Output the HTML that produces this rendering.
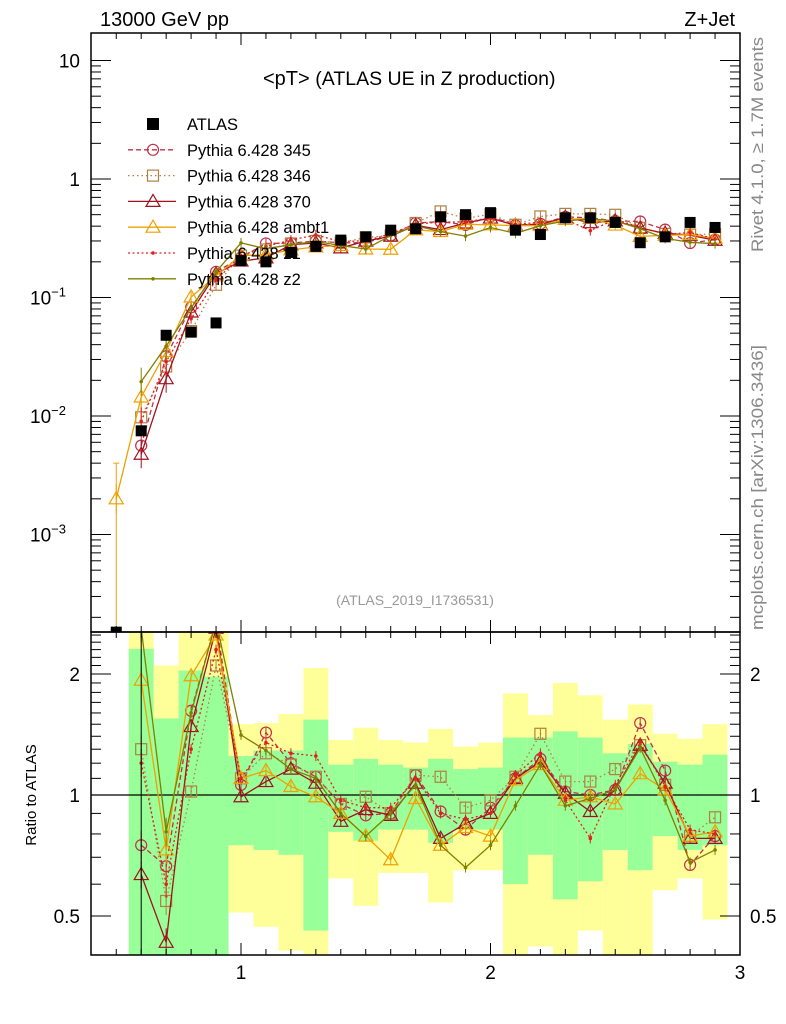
<!DOCTYPE html>
<html><head><meta charset="utf-8"><style>
body{margin:0;background:#fff;}
svg{display:block;font-family:"Liberation Sans",sans-serif;}
</style></head><body>
<svg id="c" width="786" height="1024" viewBox="0 0 786 1024"></svg>
<script>
const bins=[0.6,0.7,0.8,0.9,1.0,1.1,1.2,1.3,1.4,1.5,1.6,1.7,1.8,1.9,2.0,2.1,2.2,2.3,2.4,2.5,2.6,2.7,2.8,2.9];
const atlas=[0.0075,0.048,0.051,0.061,0.205,0.20,0.24,0.27,0.305,0.325,0.37,0.38,0.48,0.50,0.52,0.37,0.34,0.47,0.47,0.43,0.29,0.325,0.43,0.39];
const atlasLowX=0.5, atlasLowVal=0.00015;
const band1Hi=[2.31,1.55,2.04,1.97,1.25,1.29,1.29,1.54,1.19,1.23,1.19,1.17,1.23,1.16,1.17,1.39,1.39,1.44,1.39,1.27,1.34,1.21,1.19,1.26];
const band1Lo=[0.3,0.3,0.3,0.3,0.75,0.73,0.71,0.46,0.81,0.77,0.82,0.82,0.76,0.82,0.82,0.60,0.71,0.55,0.61,0.73,0.65,0.79,0.73,0.75];
const band2Hi=[3,2.1,3,3,1.50,1.51,1.59,2.07,1.37,1.47,1.37,1.35,1.46,1.32,1.35,1.79,1.58,1.90,1.77,1.54,1.68,1.42,1.38,1.50];
const band2Lo=[0.3,0.3,0.3,0.3,0.51,0.47,0.41,0.3,0.62,0.53,0.64,0.64,0.54,0.65,0.65,0.3,0.42,0.3,0.46,0.3,0.3,0.58,0.62,0.49];
const r345=[0.75,0.665,1.62,2.7,1.06,1.43,1.20,1.11,0.95,0.89,0.90,1.12,0.91,0.82,0.93,1.10,1.23,1.02,1.00,1.03,1.51,1.15,0.67,0.79];
const r346=[1.30,0.545,1.02,2.10,1.10,1.27,1.19,1.11,0.95,0.99,0.90,1.12,1.11,0.93,0.97,1.11,1.42,1.08,1.08,1.16,1.33,1.06,0.79,0.88];
const r370=[0.634,0.43,1.48,2.6,0.99,1.08,1.16,1.07,0.86,0.92,0.89,1.07,0.78,0.85,0.90,1.10,1.21,1.01,0.91,1.03,1.33,1.07,0.78,0.78];
const rambt1=[1.93,0.73,1.98,2.5,1.10,1.15,1.05,0.99,0.90,0.79,0.69,0.98,0.75,0.83,0.79,1.09,1.19,0.97,0.99,0.95,1.13,1.03,0.79,0.81];
const rz1=[1.2,0.6,1.3,2.3,1.1,1.35,1.27,1.25,0.97,0.93,0.93,1.1,0.9,0.87,0.90,1.12,1.27,0.97,0.78,1.06,1.35,1.05,0.82,0.80];
const rz2=[2.6,0.81,1.6,2.7,1.41,1.29,1.16,1.10,0.90,0.79,0.90,1.06,0.75,0.66,0.75,0.94,1.19,0.94,0.98,1.03,1.31,0.97,0.68,0.73];
const ambt1LowX=0.5, ambt1LowVal=0.002;
const legendLabels=["ATLAS","Pythia 6.428 345","Pythia 6.428 346","Pythia 6.428 370","Pythia 6.428 ambt1","Pythia 6.428 z1","Pythia 6.428 z2"];

const S=document.getElementById('c'),NS='http://www.w3.org/2000/svg';
function el(t,a,p){const e=document.createElementNS(NS,t);for(const k in a)e.setAttribute(k,a[k]);(p||S).appendChild(e);return e;}
const X0=91,X1=740,T0=33,T1=632,R0=632,R1=955;
const xs=v=>241+(v-1)*249.5;
const ys=v=>179-118.5*Math.log10(v);
const yr=v=>795-121*Math.log2(v);

const defs=el('defs',{});
const c1=el('clipPath',{id:'ct'},defs);el('rect',{x:X0,y:T0,width:X1-X0,height:T1-T0},c1);
const c2=el('clipPath',{id:'cr'},defs);el('rect',{x:X0,y:R0,width:X1-X0,height:R1-R0},c2);

const gB=el('g',{'clip-path':'url(#cr)'});

bins.forEach((b,i)=>{
  const x=xs(b-0.05),w=xs(b+0.05)-x;
  const y2=el('rect',{x:x,y:yr(band2Hi[i]),width:w,height:yr(band2Lo[i])-yr(band2Hi[i]),fill:'#ffff99'},gB);
  
  const y1=el('rect',{x:x,y:yr(band1Hi[i]),width:w,height:yr(band1Lo[i])-yr(band1Hi[i]),fill:'#99ff99'},gB);
  
});
el('line',{x1:X0,x2:X1,y1:yr(1),y2:yr(1),stroke:'#000','stroke-width':1.2});

const models=[
 {n:'pythia-345',r:r345,c:'#c0304b',d:'5,3',m:'circle'},
 {n:'pythia-346',r:r346,c:'#b08040',d:'1.5,3',m:'square'},
 {n:'pythia-370',r:r370,c:'#a01020',d:'',m:'tri'},
 {n:'pythia-ambt1',r:rambt1,c:'#f0a000',d:'',m:'tri'},
 {n:'pythia-z1',r:rz1,c:'#e02020',d:'2,2.5',m:'dot'},
 {n:'pythia-z2',r:rz2,c:'#808000',d:'',m:'dot'}];
function marker(g,m,x,y,c,name){
  let e;
  if(m=='circle')e=el('circle',{cx:x,cy:y,r:5.5,fill:'none',stroke:c,'stroke-width':1.2},g);
  else if(m=='square')e=el('rect',{x:x-5.5,y:y-5.5,width:11,height:11,fill:'none',stroke:c,'stroke-width':1.2},g);
  else if(m=='tri')e=el('polygon',{points:`${x},${y-7} ${x-7},${y+5} ${x+7},${y+5}`,fill:'none',stroke:c,'stroke-width':1.2},g);
  else e=el('circle',{cx:x,cy:y,r:1.8,fill:c},g);
  
}
function drawModel(md,top){
  const g=el('g',{'clip-path':top?'url(#ct)':'url(#cr)'});
  
  let xsArr=bins.slice(),vals=md.r.map((r,i)=>top?r*atlas[i]:r);
  if(top&&md.n=='pythia-ambt1'){xsArr.unshift(ambt1LowX);vals.unshift(ambt1LowVal);}
  const yf=top?ys:yr;
  const pts=xsArr.map((b,i)=>xs(b)+','+yf(vals[i]).toFixed(1)).join(' ');
  el('polyline',{points:pts,fill:'none',stroke:md.c,'stroke-width':1.3,'stroke-dasharray':md.d},g);
  xsArr.forEach((b,i)=>{
    const x=xs(b),y=yf(vals[i]),e=(b<0.75?14:5);
    el('line',{x1:x,x2:x,y1:y-e,y2:y+e,stroke:md.c,'stroke-width':1},g);
    marker(g,md.m,x,y,md.c,top?'model-point':'ratio-point');
  });
  if(top&&md.n=='pythia-ambt1'){
    const x=xs(ambt1LowX);
    el('line',{x1:x,x2:x,y1:ys(0.004),y2:T1,stroke:md.c,'stroke-width':1},g);
    el('line',{x1:x-3,x2:x+3,y1:ys(0.004),y2:ys(0.004),stroke:md.c,'stroke-width':1},g);
  }
}
models.forEach(m=>drawModel(m,false));
models.forEach(m=>drawModel(m,true));
const gD=el('g',{'clip-path':'url(#ct)'});

[atlasLowX].concat(bins).forEach((b,i)=>{
  const v=i==0?atlasLowVal:atlas[i-1];
  const r=el('rect',{x:xs(b)-5.5,y:ys(v)-5.5,width:11,height:11,fill:'#000'},gD);
  
});
el('line',{x1:xs(0.6),x2:xs(0.6),y1:R0,y2:R1,stroke:'#000','stroke-width':1});

el('rect',{x:X0,y:T0,width:X1-X0,height:T1-T0,fill:'none',stroke:'#000','stroke-width':1.5});
el('rect',{x:X0,y:R0,width:X1-X0,height:R1-R0,fill:'none',stroke:'#000','stroke-width':1.5});
const gt=el('g',{stroke:'#000','stroke-width':1});
for(let k=5;k<=29;k++){const v=k/10,x=xs(v),maj=(k%10==0),L=maj?12:6;
  [[T0,1],[R0,-1],[R0,1],[R1,-1]].forEach(([y,s])=>el('line',{x1:x,x2:x,y1:y,y2:y+s*L},gt));
  if(maj){const t=el('text',{x:x,y:979,'text-anchor':'middle','font-size':19,stroke:'none'},gt);t.textContent=k/10;
    }
}
const t3=el('text',{x:xs(3),y:979,'text-anchor':'middle','font-size':19},S);t3.textContent='3';

for(let e=-4;e<=1;e++)for(let m=1;m<=9;m++){const v=m*Math.pow(10,e),y=ys(v);if(y<T0||y>T1)continue;
  const L=m==1?20:10;el('line',{x1:X0,x2:X0+L,y1:y,y2:y},gt);el('line',{x1:X1,x2:X1-L,y1:y,y2:y},gt);}
const ylab=[[10,'10'],[1,'1'],[0.1,'10<tspan dy="-8" font-size="13">−1</tspan>'],[0.01,'10<tspan dy="-8" font-size="13">−2</tspan>'],[0.001,'10<tspan dy="-8" font-size="13">−3</tspan>']];
ylab.forEach(([v,s])=>{const t=el('text',{x:v>=1?80:66,y:ys(v)+7,'text-anchor':'end','font-size':19});t.innerHTML=s;
  });
for(let v=0.4;v<=2.55;v+=0.1){const vv=Math.round(v*10)/10,y=yr(vv);if(y<R0||y>R1)continue;
  const maj=(vv==0.5||vv==1||vv==2),L=maj?20:10;el('line',{x1:X0,x2:X0+L,y1:y,y2:y},gt);el('line',{x1:X1,x2:X1-L,y1:y,y2:y},gt);}
[[2,'2'],[1,'1'],[0.5,'0.5']].forEach(([v,s])=>{
  const a=el('text',{x:80,y:yr(v)+7,'text-anchor':'end','font-size':19});a.textContent=s;
  
  const b=el('text',{x:750,y:yr(v)+7,'text-anchor':'start','font-size':19});b.textContent=s;
  });

function txt(x,y,s,attrs,name){const t=el('text',Object.assign({x:x,y:y},attrs));t.innerHTML=s;return t;}
txt(100,26,'13000 GeV pp',{'font-size':20},'energy-label');
txt(735,26,'Z+Jet',{'font-size':20,'text-anchor':'end'},'process-label');
txt(263,85,'&lt;pT&gt; <tspan font-size="19.5">(ATLAS UE in Z production)</tspan>',{'font-size':20},'plot-title');
txt(415,605,'(ATLAS_2019_I1736531)',{'font-size':14,'text-anchor':'middle',fill:'#999'},'analysis-id');
txt(0,0,'Rivet 4.1.0, ≥ 1.7M events',{'font-size':17,fill:'#888',textLength:215,lengthAdjust:'spacingAndGlyphs',transform:'translate(763,252) rotate(-90)'},'rivet-label');
txt(0,0,'mcplots.cern.ch [arXiv:1306.3436]',{'font-size':17,fill:'#888',textLength:285,lengthAdjust:'spacingAndGlyphs',transform:'translate(763,630) rotate(-90)'},'mcplots-label');
txt(0,0,'Ratio to ATLAS',{'font-size':15,'text-anchor':'middle',transform:'translate(36,795) rotate(-90)'},'y-axis-title');

const gl=el('g',{});
legendLabels.forEach((s,i)=>{
  const y=124+i*25.8,ge=el('g',{},gl);
  
  if(i==0){el('rect',{x:147,y:y-6,width:12,height:12,fill:'#000'},ge);}
  else{const md=models[i-1];
    el('line',{x1:128,x2:176,y1:y,y2:y,stroke:md.c,'stroke-width':1.3,'stroke-dasharray':md.d},ge);
    marker(ge,md.m,153,y,md.c,'legend-marker');}
  const t=el('text',{x:187,y:y+6,'font-size':16.5},ge);t.textContent=s;
});
</script>
</body></html>
